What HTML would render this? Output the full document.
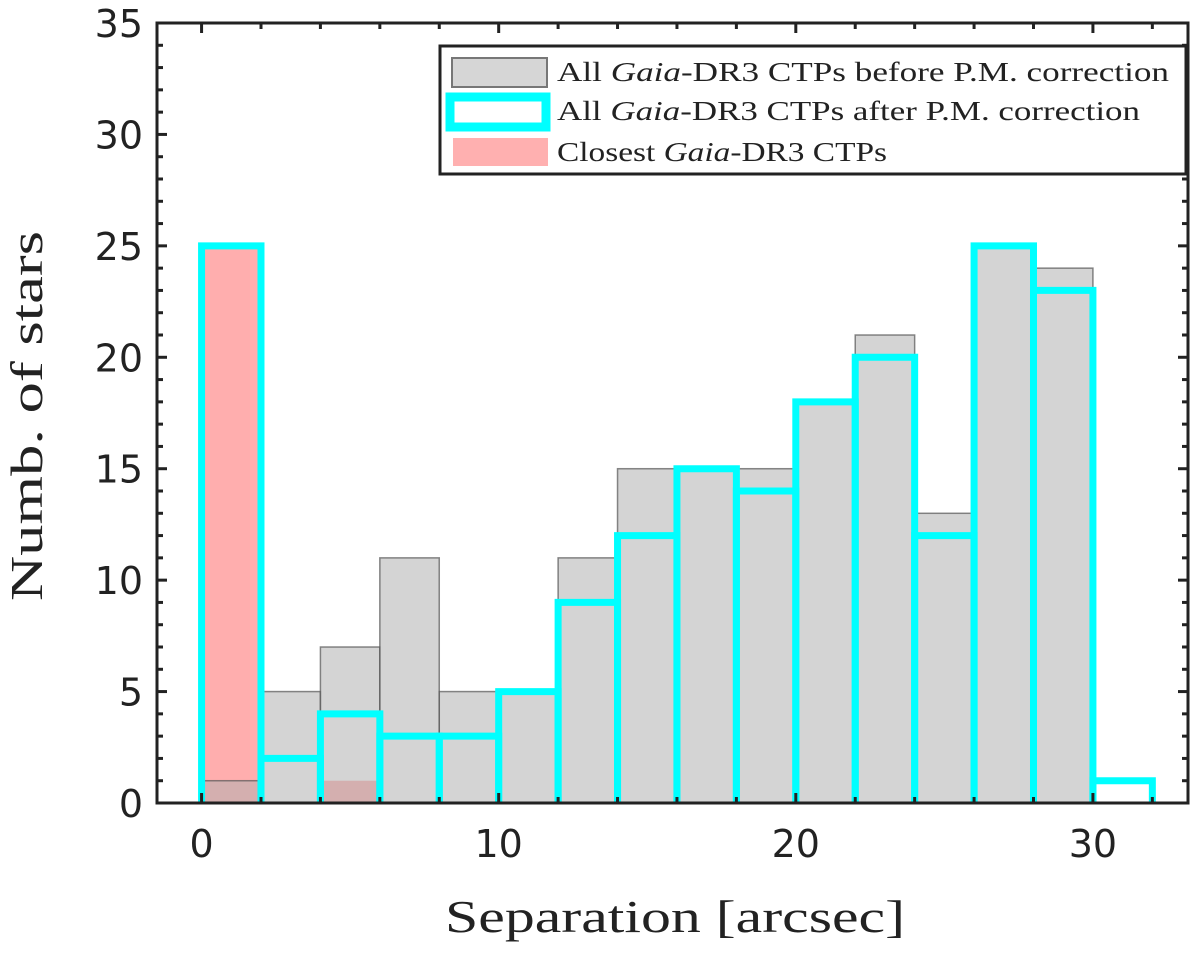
<!DOCTYPE html>
<html><head><meta charset="utf-8"><style>
body{margin:0;background:#fff;}
svg text{font-family:"DejaVu Sans","Liberation Sans",sans-serif;}
.serif{font-family:"Liberation Serif","DejaVu Serif",serif;}
</style></head><body>
<svg id="chart" width="1200" height="951" viewBox="0 0 1200 951" xmlns="http://www.w3.org/2000/svg">
<g id="bars"></g>
<g id="axes"></g>
<g id="legend">
<rect x="440" y="46" width="746" height="128" fill="#fff" stroke="#222" stroke-width="3"/>
<rect x="452" y="58" width="95" height="29" fill="#d6d6d6" stroke="#777" stroke-width="2"/>
<text class="serif" x="557" y="81" font-size="27" fill="#222" textLength="612" lengthAdjust="spacingAndGlyphs">All <tspan font-style="italic">Gaia</tspan>-DR3 CTPs before P.M. correction</text>
<rect x="450" y="97" width="96" height="30" fill="#fff" stroke="#00ffff" stroke-width="9"/>
<text class="serif" x="557" y="120" font-size="27" fill="#222" textLength="583" lengthAdjust="spacingAndGlyphs">All <tspan font-style="italic">Gaia</tspan>-DR3 CTPs after P.M. correction</text>
<rect x="453" y="138" width="95" height="28" fill="#ffb0b0"/>
<text class="serif" x="557" y="161" font-size="27" fill="#222" textLength="330" lengthAdjust="spacingAndGlyphs">Closest <tspan font-style="italic">Gaia</tspan>-DR3 CTPs</text>
</g>
</svg>
<script>
const binEdges=[0,2,4,6,8,10,12,14,16,18,20,22,24,26,28,30,32];
const grayCounts=[1,5,7,11,5,5,11,15,15,15,18,21,13,25,24,0];
const cyanCounts=[25,2,4,3,3,5,9,12,15,14,18,20,12,25,23,1];
const redCounts=[25,0,1,0,0,0,0,0,0,0,0,0,0,0,0,0];
const xTicks=[0,10,20,30];
const yTicks=[0,5,10,15,20,25,30,35];
const X0=157,X1=1188,Y0=803,Y1=23;
const xmin=-1.5,xmax=33.2,ymin=0,ymax=35;
const sx=v=>X0+(v-xmin)/(xmax-xmin)*(X1-X0);
const sy=v=>Y0-(v-ymin)/(ymax-ymin)*(Y0-Y1);
const NS="http://www.w3.org/2000/svg";
const bars=document.getElementById('bars'),axes=document.getElementById('axes');
function mk(tag,attrs,parent){const e=document.createElementNS(NS,tag);for(const k in attrs)e.setAttribute(k,attrs[k]);parent.appendChild(e);return e;}
redCounts.forEach((c,i)=>{if(!c)return;
const r=mk('rect',{x:sx(binEdges[i]),y:sy(c),width:sx(binEdges[i+1])-sx(binEdges[i]),height:sy(0)-sy(c),fill:'#ff9a9a','fill-opacity':0.8},bars);

});
grayCounts.forEach((c,i)=>{if(!c)return;
const r=mk('rect',{x:sx(binEdges[i]),y:sy(c),width:sx(binEdges[i+1])-sx(binEdges[i]),height:sy(0)-sy(c),fill:'#b0b0b0','fill-opacity':0.55,stroke:'#555','stroke-opacity':0.7,'stroke-width':1.5},bars);

});
cyanCounts.forEach((c,i)=>{if(!c)return;
const a=sx(binEdges[i]),b=sx(binEdges[i+1]),t=sy(c),z=sy(0);
const r=mk('path',{d:`M${a},${z} L${a},${t} L${b},${t} L${b},${z}`,fill:'none',stroke:'#00ffff','stroke-width':7},bars);

});
const box=mk('rect',{x:X0,y:Y1,width:X1-X0,height:Y0-Y1,fill:'none',stroke:'#222','stroke-width':3},axes);


for(let v=0;v<=32;v+=2){const big=v%10===0;const L=big?10:6;
mk('line',{x1:sx(v),x2:sx(v),y1:Y0,y2:Y0-L,stroke:'#222','stroke-width':3},axes);
mk('line',{x1:sx(v),x2:sx(v),y1:Y1,y2:Y1+L,stroke:'#222','stroke-width':3},axes);}
for(let v=0;v<=35;v+=1){const big=v%5===0;const L=big?10:6;
mk('line',{x1:X0,x2:X0+L,y1:sy(v),y2:sy(v),stroke:'#222','stroke-width':3},axes);
mk('line',{x1:X1,x2:X1-L,y1:sy(v),y2:sy(v),stroke:'#222','stroke-width':3},axes);}
xTicks.forEach(v=>{const t=mk('text',{x:sx(v),y:Y0+54,'font-size':38,'text-anchor':'middle',fill:'#222'},axes);t.textContent=v;

});
yTicks.forEach(v=>{const t=mk('text',{x:X0-14,y:sy(v)+14,'font-size':38,'text-anchor':'end',fill:'#222'},axes);t.textContent=v;

});
const xl=mk('text',{x:445,y:932,'font-size':46,fill:'#222',class:'serif',textLength:460,lengthAdjust:'spacingAndGlyphs'},axes);xl.textContent='Separation [arcsec]';


const yl=mk('text',{x:0,y:0,'font-size':46,fill:'#222',class:'serif',textLength:370,lengthAdjust:'spacingAndGlyphs',transform:'translate(42,601) rotate(-90)'},axes);yl.textContent='Numb. of stars';


</script>
</body></html>
